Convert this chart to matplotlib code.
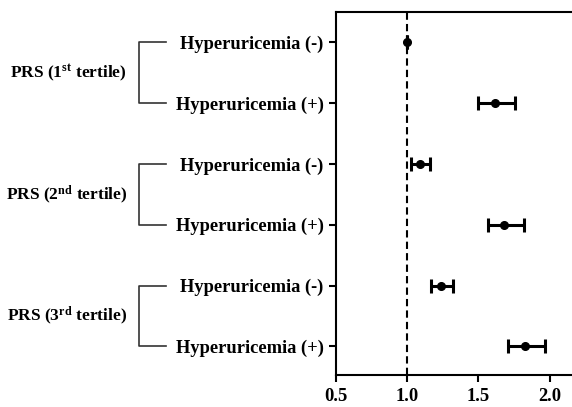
import matplotlib.pyplot as plt
from matplotlib.transforms import blended_transform_factory

plt.rcParams['font.family'] = 'Liberation Serif'
plt.rcParams['font.weight'] = 'bold'
plt.rcParams['mathtext.fontset'] = 'custom'
plt.rcParams['mathtext.rm'] = 'Liberation Serif:bold'
plt.rcParams['mathtext.default'] = 'rm'

# data
row_labels = ["Hyperuricemia (-)", "Hyperuricemia (+)"] * 3
group_labels = [r"PRS (1$^{st}$ tertile)", r"PRS (2$^{nd}$ tertile)", r"PRS (3$^{rd}$ tertile)"]
estimate = [1.00, 1.62, 1.09, 1.68, 1.24, 1.83]
ci_low = [1.00, 1.50, 1.03, 1.57, 1.17, 1.71]
ci_high = [1.00, 1.76, 1.16, 1.82, 1.32, 1.97]

fig = plt.figure(figsize=(5.72, 4.07), dpi=100)
ax = fig.add_axes([0.5866, 0.0786, 0.424, 0.892])

ypos = list(range(len(estimate)))
xerr = [[e - l for e, l in zip(estimate, ci_low)],
        [h - e for e, h in zip(estimate, ci_high)]]
ax.errorbar(estimate, ypos, xerr=xerr, fmt='o', color='black', ms=5.5,
            elinewidth=2.2, capsize=5, capthick=2.2)
ax.axvline(1.0, color='black', ls=(0, (3.5, 2)), lw=1.5, zorder=0)

ax.set_xlim(0.5, 2.2)
ax.set_ylim(5.47, -0.5)
ax.set_xticks([0.5, 1.0, 1.5, 2.0])
ax.set_xticklabels(["0.5", "1.0", "1.5", "2.0"])
ax.set_yticks(ypos)
ax.set_yticklabels(row_labels)
ax.tick_params(axis='both', labelsize=13.3, width=1.5, length=5)
ax.tick_params(axis='x', pad=4)
ax.tick_params(axis='y', pad=3.5)
ax.spines['right'].set_visible(False)
for s in ['left', 'top', 'bottom']:
    ax.spines[s].set_linewidth(1.5)

# group brackets
trans = blended_transform_factory(fig.transFigure, ax.transData)
bx0, bx1 = 139 / 572, 166 / 572
for g, label in enumerate(group_labels):
    y0, y1 = 2 * g, 2 * g + 1
    ax.plot([bx1, bx0, bx0, bx1], [y0, y0, y1, y1], color='#333333', lw=1.2,
            transform=trans, clip_on=False)
    ax.text(127 / 572, (y0 + y1) / 2, label, transform=trans, ha='right',
            va='center', fontsize=12.5, fontweight='bold')

fig.savefig('out.png', dpi=100)
